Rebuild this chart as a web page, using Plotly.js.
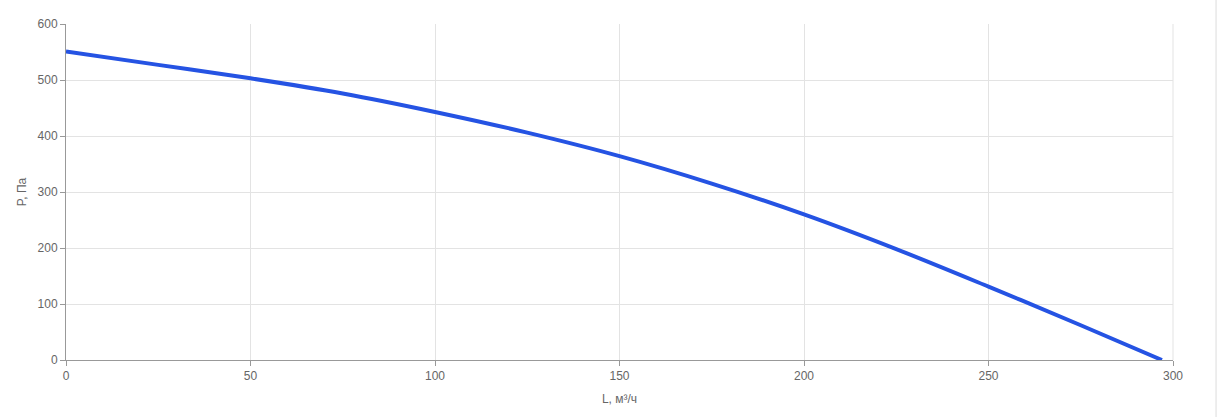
<!DOCTYPE html>
<html>
<head>
<meta charset="utf-8">
<script src="https://cdn.plot.ly/plotly-3.0.1.min.js"></script>
<style>html,body{margin:0;padding:0;background:#fff;}#chart{width:1220px;height:417px;}</style>
</head>
<body>
<div id="chart"></div>
<script>
const flowL = [0, 25, 50, 75, 100, 125, 150, 175, 200, 225, 250, 275, 297];
const pressureP = [551, 527, 503, 476, 443, 406, 364, 315, 260, 198, 131, 62, 0];
const xTicks = [0, 50, 100, 150, 200, 250, 300];
const yTicks = [0, 100, 200, 300, 400, 500, 600];

const trace = {
  x: flowL, y: pressureP, type: 'scatter', mode: 'lines',
  line: {color: '#2553e3', width: 4, shape: 'spline', smoothing: 1},
  hoverinfo: 'x+y'
};
const layout = {
  width: 1220, height: 417,
  margin: {l: 66, r: 47, t: 24, b: 57},
  paper_bgcolor: '#fff', plot_bgcolor: '#fff',
  font: {family: 'Arial, "Liberation Sans", sans-serif', size: 12, color: '#666'},
  showlegend: false,
  xaxis: {
    range: [0, 300], tickvals: xTicks, ticktext: xTicks.map(String),
    showgrid: true, gridcolor: '#e3e3e3', gridwidth: 1,
    zeroline: false, showline: true, linecolor: '#999', linewidth: 1,
    ticks: 'outside', ticklen: 5, tickcolor: '#999',
    tickfont: {size: 12, color: '#666'},
    title: {text: 'L, м³/ч', font: {size: 12, color: '#666'}, standoff: 12}
  },
  yaxis: {
    range: [0, 600], tickvals: yTicks, ticktext: yTicks.map(String),
    showgrid: true, gridcolor: '#e3e3e3', gridwidth: 1,
    zeroline: false, showline: true, linecolor: '#999', linewidth: 1,
    ticks: 'outside', ticklen: 5, tickcolor: '#999',
    tickfont: {size: 12, color: '#666'},
    title: {text: 'P, Па', font: {size: 12, color: '#666'}, standoff: 8}
  },
  shapes: [
    {type: 'line', xref: 'paper', yref: 'paper', x0: 1, x1: 1, y0: 0, y1: 1, line: {color: '#e3e3e3', width: 1}},
    {type: 'line', xref: 'paper', yref: 'paper', x0: 1.0389, x1: 1.0389, y0: -0.2, y1: 1.1, line: {color: '#dcdcdc', width: 1}}
  ]
};
Plotly.newPlot('chart', [trace], layout, {displayModeBar: false, staticPlot: true});
</script>
</body>
</html>
